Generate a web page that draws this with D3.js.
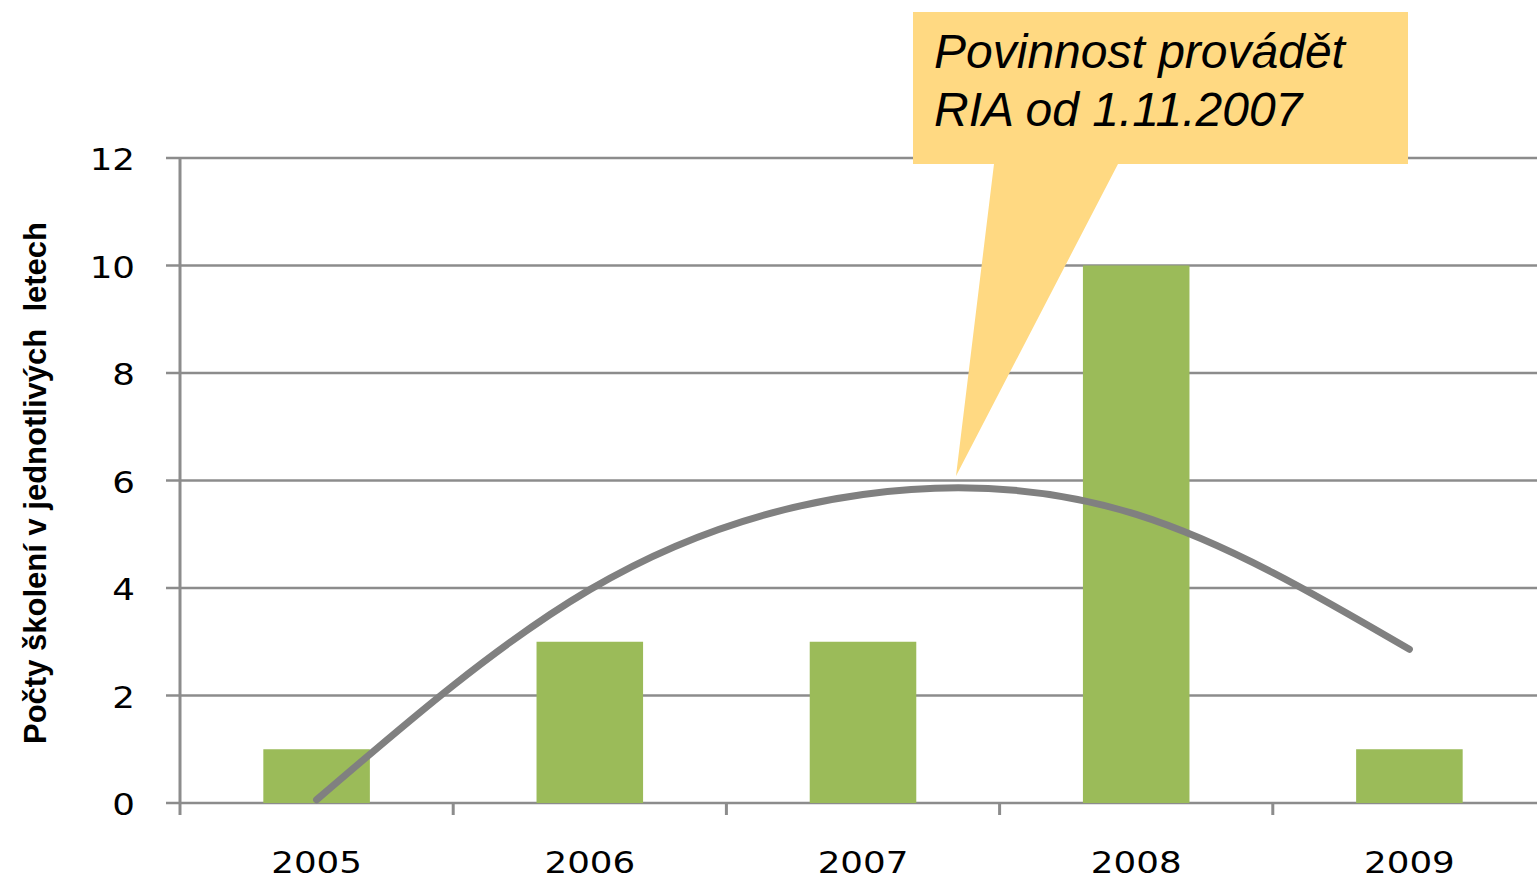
<!DOCTYPE html>
<html>
<head>
<meta charset="utf-8">
<script src="https://cdn.jsdelivr.net/npm/d3@7"></script>
<style>
  body { margin: 0; background: #fff; }
  svg { display: block; }
</style>
</head>
<body>
<script>
// data
var years = ["2005", "2006", "2007", "2008", "2009"];
var counts = [1, 3, 3, 10, 1];
// polynomial trend line, value read at each year
var trend = [0.06, 3.97, 5.74, 5.37, 2.86];
var yTicks = [0, 2, 4, 6, 8, 10, 12];
var calloutLines = ["Povinnost provádět", "RIA od 1.11.2007"];
var yTitle = "Počty školení v jednotlivých  letech";

var w = 1537;
var h = 881;

var svg = d3.select("body")
            .append("svg")
            .attr("width", w)
            .attr("height", h);

var x = d3.scaleBand()
          .domain(years)
          .range([180, 1546]);

var y = d3.scaleLinear()
          .domain([0, 12])
          .range([803, 158]);

var barW = x.bandwidth() * 0.39;

// gridlines
svg.selectAll("line.grid")
   .data(yTicks)
   .enter()
   .append("line")
   .attr("class", "grid")
   .attr("x1", 166)
   .attr("x2", w)
   .attr("y1", function(d){ return y(d); })
   .attr("y2", function(d){ return y(d); })
   .attr("stroke", "#8c8c8c")
   .attr("stroke-width", 2.5);

// y axis line
svg.append("line")
   .attr("x1", 180).attr("x2", 180)
   .attr("y1", y(12)).attr("y2", y(0))
   .attr("stroke", "#8c8c8c")
   .attr("stroke-width", 3);

// x tick marks at band edges
svg.selectAll("line.xtick")
   .data(years)
   .enter()
   .append("line")
   .attr("class", "xtick")
   .attr("x1", function(d){ return x(d); })
   .attr("x2", function(d){ return x(d); })
   .attr("y1", y(0))
   .attr("y2", y(0) + 12)
   .attr("stroke", "#8c8c8c")
   .attr("stroke-width", 3);

// y tick labels (the original glyphs are a bit wider, so stretch them)
svg.selectAll("text.ylab")
   .data(yTicks)
   .enter()
   .append("text")
   .attr("class", "ylab")
   .attr("transform", function(d){ return "translate(135," + (y(d) + 12) + ") scale(1.15,1)"; })
   .attr("text-anchor", "end")
   .attr("font-family", "DejaVu Sans")
   .attr("font-size", 31)
   .attr("fill", "#000")
   .text(function(d){ return d; });

// x labels
svg.selectAll("text.xlab")
   .data(years)
   .enter()
   .append("text")
   .attr("class", "xlab")
   .attr("transform", function(d){ return "translate(" + (x(d) + x.bandwidth() / 2) + ",873) scale(1.15,1)"; })
   .attr("text-anchor", "middle")
   .attr("font-family", "DejaVu Sans")
   .attr("font-size", 31)
   .attr("fill", "#000")
   .text(function(d){ return d; });

// bars
svg.selectAll("rect.bar")
   .data(counts)
   .enter()
   .append("rect")
   .attr("class", "bar")
   .attr("x", function(d, i){ return x(years[i]) + x.bandwidth() / 2 - barW / 2; })
   .attr("y", function(d){ return y(d); })
   .attr("width", barW)
   .attr("height", function(d){ return y(0) - y(d); })
   .attr("fill", "#9bbb59");

// trend line
var line = d3.line()
             .x(function(d, i){ return x(years[i]) + x.bandwidth() / 2; })
             .y(function(d){ return y(d); })
             .curve(d3.curveNatural);

svg.append("path")
   .datum(trend)
   .attr("d", line)
   .attr("fill", "none")
   .attr("stroke", "#808080")
   .attr("stroke-width", 7)
   .attr("stroke-linecap", "round");

// callout
svg.append("path")
   .attr("d", "M913,12 L1408,12 L1408,164 L1118,164 L956,476 L994,164 L913,164 Z")
   .attr("fill", "#ffd982");

svg.selectAll("text.callout")
   .data(calloutLines)
   .enter()
   .append("text")
   .attr("class", "callout")
   .attr("x", 934)
   .attr("y", function(d, i){ return 68 + i * 58; })
   .attr("font-family", "Liberation Sans, Arial")
   .attr("font-style", "italic")
   .attr("font-size", 48)
   .attr("fill", "#000")
   .text(function(d){ return d; });

// y title
svg.append("text")
   .attr("transform", "translate(46,483) rotate(-90)")
   .attr("text-anchor", "middle")
   .attr("font-family", "Liberation Sans Narrow, Liberation Sans")
   .attr("font-weight", "bold")
   .attr("font-size", 31)
   .attr("fill", "#000")
   .style("white-space", "pre")
   .text(yTitle);
</script>
</body>
</html>
